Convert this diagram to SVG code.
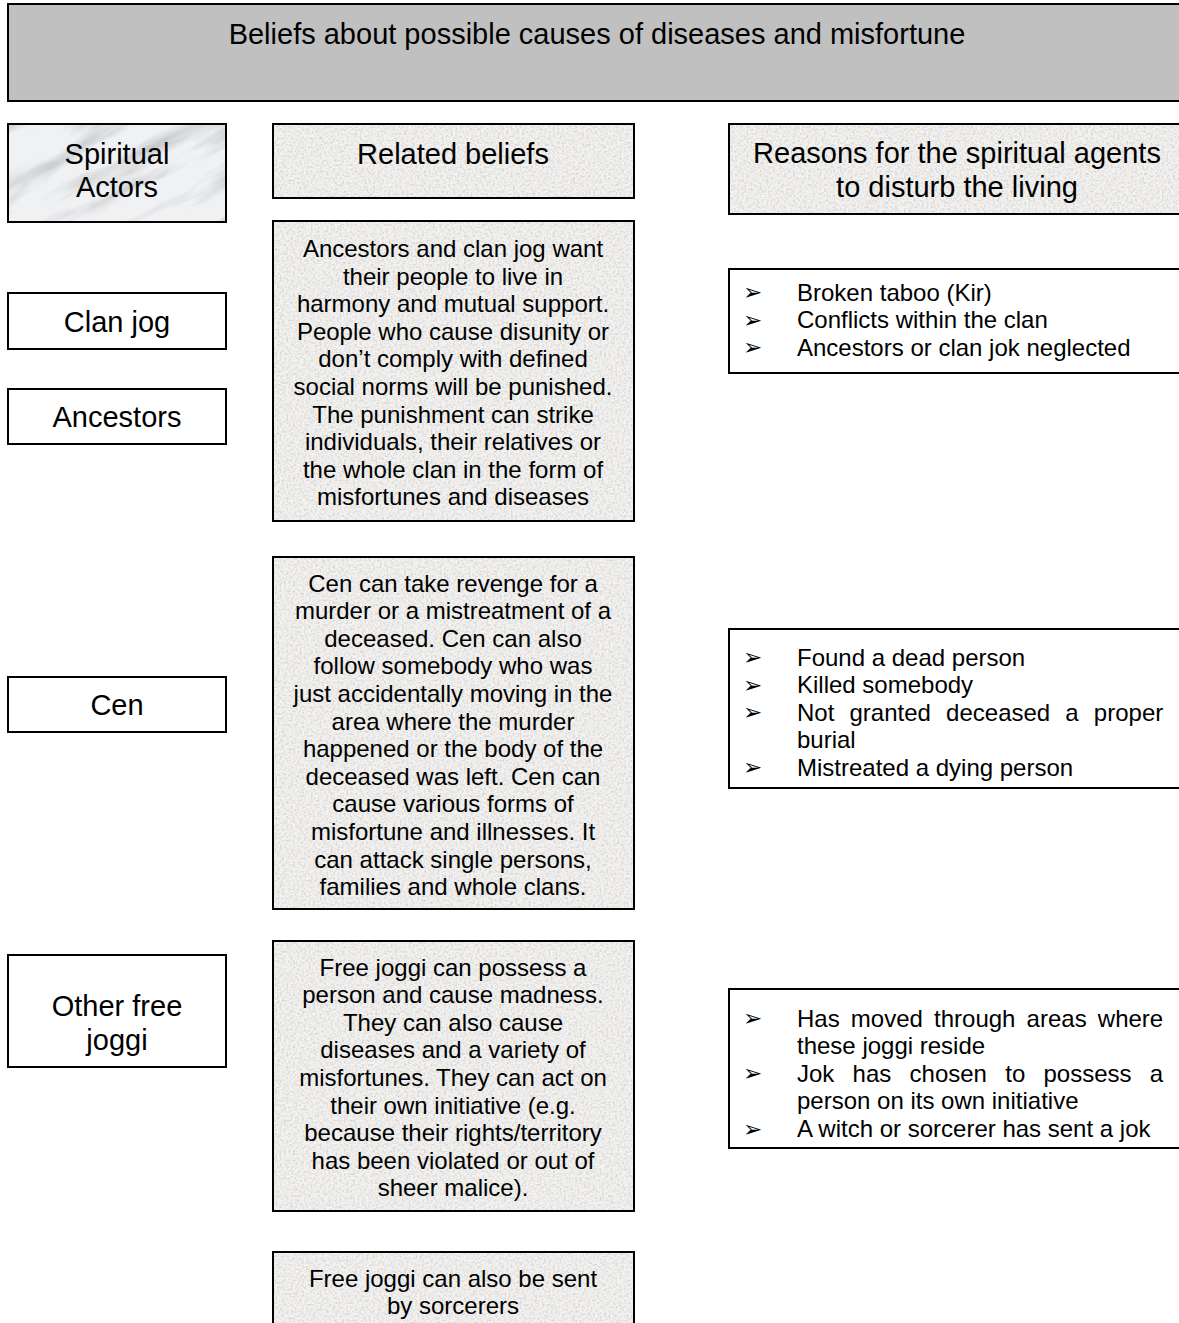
<svg xmlns="http://www.w3.org/2000/svg" width="1179" height="1323" viewBox="0 0 1179 1323">
<style>
text{font-family:"Liberation Sans",Arial,sans-serif;fill:#000}
.h{font-size:29px;text-anchor:middle}
.b{font-size:24px;text-anchor:middle}
.l{font-size:24px}
.bul{font-family:"DejaVu Sans",sans-serif;font-size:23px}
.box{fill:none;stroke:#000;stroke-width:2}
.plain{fill:#fff;stroke:#000;stroke-width:2}
.stone{fill:#f3f2f0}
</style>
<defs>
<filter id="grain" x="0" y="0" width="100%" height="100%" filterUnits="objectBoundingBox">
<feTurbulence type="fractalNoise" baseFrequency="0.45" numOctaves="3" seed="4" result="n"/>
<feColorMatrix in="n" type="matrix" values="0 0 0 0 0.66  0 0 0 0 0.66  0 0 0 0 0.64  2.4 0 0 0 -1.0"/>
</filter>
<filter id="marble" x="0" y="0" width="100%" height="100%" filterUnits="objectBoundingBox">
<feTurbulence type="fractalNoise" baseFrequency="0.01 0.05" numOctaves="4" seed="9" result="n"/>
<feColorMatrix in="n" type="matrix" values="0 0 0 0 0.55  0 0 0 0 0.56  0 0 0 0 0.58  2.2 0 0 0 -1.0"/>
</filter>
<clipPath id="cSA"><rect x="8" y="124" width="218" height="98"/></clipPath>
</defs>

<g id="title">
<rect x="8" y="4" width="1182" height="97" fill="#c0c0c0" stroke="#000" stroke-width="2"/>
<text class="h" x="597" y="44">Beliefs about possible causes of diseases and misfortune</text>
</g>

<g id="spiritual-actors">
<rect x="8" y="124" width="218" height="98" fill="#f0f1f3"/>
<g clip-path="url(#cSA)"><rect x="-60" y="40" width="360" height="260" filter="url(#marble)" transform="rotate(-28 117 173)"/></g>
<rect class="box" x="8" y="124" width="218" height="98"/>
<text class="h" x="117" y="164">Spiritual</text>
<text class="h" x="117" y="197">Actors</text>
</g>

<g id="related-beliefs">
<rect class="stone" x="273" y="124" width="361" height="74"/>
<rect x="273" y="124" width="361" height="74" filter="url(#grain)"/>
<rect class="box" x="273" y="124" width="361" height="74"/>
<text class="h" x="453" y="164">Related beliefs</text>
</g>

<g id="reasons-header">
<rect class="stone" x="729" y="124" width="462" height="90"/>
<rect x="729" y="124" width="462" height="90" filter="url(#grain)"/>
<rect class="box" x="729" y="124" width="462" height="90"/>
<text class="h" x="957" y="163">Reasons for the spiritual agents</text>
<text class="h" x="957" y="197">to disturb the living</text>
</g>

<g id="clan-jog">
<rect class="plain" x="8" y="293" width="218" height="56"/>
<text class="h" x="117" y="332">Clan jog</text>
</g>

<g id="ancestors">
<rect class="plain" x="8" y="389" width="218" height="55"/>
<text class="h" x="117" y="427">Ancestors</text>
</g>

<g id="belief-ancestors">
<rect class="stone" x="273" y="221" width="361" height="300"/>
<rect x="273" y="221" width="361" height="300" filter="url(#grain)"/>
<rect class="box" x="273" y="221" width="361" height="300"/>
<text class="b" x="453" y="257">Ancestors and clan jog want</text>
<text class="b" x="453" y="284.6">their people to live in</text>
<text class="b" x="453" y="312.2">harmony and mutual support.</text>
<text class="b" x="453" y="339.8">People who cause disunity or</text>
<text class="b" x="453" y="367.4">don’t comply with defined</text>
<text class="b" x="453" y="395">social norms will be punished.</text>
<text class="b" x="453" y="422.6">The punishment can strike</text>
<text class="b" x="453" y="450.2">individuals, their relatives or</text>
<text class="b" x="453" y="477.8">the whole clan in the form of</text>
<text class="b" x="453" y="505.4">misfortunes and diseases</text>
</g>

<g id="reasons-ancestors">
<rect class="plain" x="729" y="269" width="462" height="104"/>
<text class="bul" x="743" y="300">➢</text><text class="l" x="797" y="300.5">Broken taboo (Kir)</text>
<text class="bul" x="743" y="327.5">➢</text><text class="l" x="797" y="328">Conflicts within the clan</text>
<text class="bul" x="743" y="355">➢</text><text class="l" x="797" y="355.5">Ancestors or clan jok neglected</text>
</g>

<g id="cen">
<rect class="plain" x="8" y="677" width="218" height="55"/>
<text class="h" x="117" y="715">Cen</text>
</g>

<g id="belief-cen">
<rect class="stone" x="273" y="557" width="361" height="352"/>
<rect x="273" y="557" width="361" height="352" filter="url(#grain)"/>
<rect class="box" x="273" y="557" width="361" height="352"/>
<text class="b" x="453" y="591.5">Cen can take revenge for a</text>
<text class="b" x="453" y="619.1">murder or a mistreatment of a</text>
<text class="b" x="453" y="646.7">deceased. Cen can also</text>
<text class="b" x="453" y="674.3">follow somebody who was</text>
<text class="b" x="453" y="701.9">just accidentally moving in the</text>
<text class="b" x="453" y="729.5">area where the murder</text>
<text class="b" x="453" y="757.1">happened or the body of the</text>
<text class="b" x="453" y="784.7">deceased was left. Cen can</text>
<text class="b" x="453" y="812.3">cause various forms of</text>
<text class="b" x="453" y="839.9">misfortune and illnesses. It</text>
<text class="b" x="453" y="867.5">can attack single persons,</text>
<text class="b" x="453" y="895.1">families and whole clans.</text>
</g>

<g id="reasons-cen">
<rect class="plain" x="729" y="629" width="462" height="159"/>
<text class="bul" x="743" y="665">➢</text><text class="l" x="797" y="665.5">Found a dead person</text>
<text class="bul" x="743" y="692.5">➢</text><text class="l" x="797" y="693">Killed somebody</text>
<text class="bul" x="743" y="720">➢</text><text class="l" x="797" y="720.5" word-spacing="8.5">Not granted deceased a proper</text>
<text class="l" x="797" y="748">burial</text>
<text class="bul" x="743" y="775">➢</text><text class="l" x="797" y="775.5">Mistreated a dying person</text>
</g>

<g id="other-free-joggi">
<rect class="plain" x="8" y="955" width="218" height="112"/>
<text class="h" x="117" y="1016">Other free</text>
<text class="h" x="117" y="1050">joggi</text>
</g>

<g id="belief-free-joggi">
<rect class="stone" x="273" y="941" width="361" height="270"/>
<rect x="273" y="941" width="361" height="270" filter="url(#grain)"/>
<rect class="box" x="273" y="941" width="361" height="270"/>
<text class="b" x="453" y="975.5">Free joggi can possess a</text>
<text class="b" x="453" y="1003.1">person and cause madness.</text>
<text class="b" x="453" y="1030.7">They can also cause</text>
<text class="b" x="453" y="1058.3">diseases and a variety of</text>
<text class="b" x="453" y="1085.9">misfortunes. They can act on</text>
<text class="b" x="453" y="1113.5">their own initiative (e.g.</text>
<text class="b" x="453" y="1141.1">because their rights/territory</text>
<text class="b" x="453" y="1168.7">has been violated or out of</text>
<text class="b" x="453" y="1196.3">sheer malice).</text>
</g>

<g id="reasons-free-joggi">
<rect class="plain" x="729" y="989" width="462" height="159"/>
<text class="bul" x="743" y="1026">➢</text><text class="l" x="797" y="1026.5" word-spacing="4.5">Has moved through areas where</text>
<text class="l" x="797" y="1054">these joggi reside</text>
<text class="bul" x="743" y="1081">➢</text><text class="l" x="797" y="1081.5" word-spacing="11.6">Jok has chosen to possess a</text>
<text class="l" x="797" y="1109">person on its own initiative</text>
<text class="bul" x="743" y="1136.5">➢</text><text class="l" x="797" y="1137">A witch or sorcerer has sent a jok</text>
</g>

<g id="belief-sorcerers">
<rect class="stone" x="273" y="1252" width="361" height="80"/>
<rect x="273" y="1252" width="361" height="80" filter="url(#grain)"/>
<rect class="box" x="273" y="1252" width="361" height="80"/>
<text class="b" x="453" y="1286.5">Free joggi can also be sent</text>
<text class="b" x="453" y="1314">by sorcerers</text>
</g>

<g id="connectors"></g>
</svg>
